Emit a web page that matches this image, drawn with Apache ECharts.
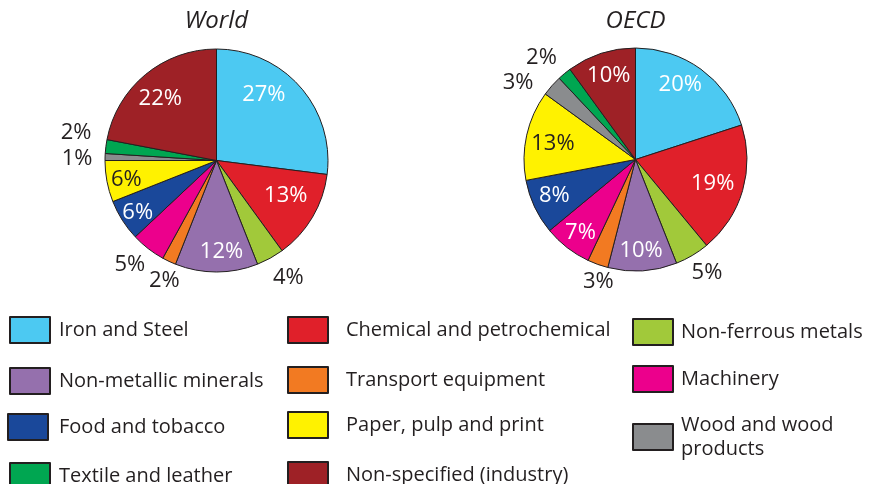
<!DOCTYPE html>
<html>
<head>
<meta charset="utf-8">
<script src="https://cdn.jsdelivr.net/npm/echarts@6/dist/echarts.min.js"></script>
<style>html,body{margin:0;padding:0;background:#fff}#c{width:870px;height:484px}</style>
</head>
<body>
<div id="c"></div>
<script>
const categories = ['Iron and Steel','Chemical and petrochemical','Non-ferrous metals','Non-metallic minerals','Transport equipment','Machinery','Food and tobacco','Paper, pulp and print','Wood and wood products','Textile and leather','Non-specified (industry)'];
const worldValues = [27,13,4,12,2,5,6,6,1,2,22];
const oecdValues = [20,19,5,10,3,7,8,13,3,2,10];
const chartTitles = ['World','OECD'];
const colors = ['#4cc9f2','#e0202a','#a1c93a','#9570ad','#f27a22','#ec008c','#1a489a','#fff200','#8a8c8e','#00a651','#9e2126'];

// label nudges (style only, pixels)
const worldNudge = [[-20,-6],[-8,-10],[6,-2],[5,1],[6,-3],[-3,-4],[-3,4],[-2,2],[-3,3],[-5,-11],[1,7]];
const oecdNudge = [[-8,-2],[-9,-1],[2,-4],[0,2],[9,-6],[0,2],[0,-2],[5,4],[-15,14],[-7,3],[1,2]];

const FONT = '"Open Sans", sans-serif';
const DARK = '#231f20';
const R = 111.5;
const centers = [[216.5,160.5],[635.5,159.5]];

function pieSeries(values, center, nudge) {
  const layout = p => ({dx: nudge[p.dataIndex][0], dy: nudge[p.dataIndex][1], hideOverlap: false, moveOverlap: null});
  const main = {
    type: 'pie', center: center, radius: [0, R], startAngle: 90, clockwise: true,
    avoidLabelOverlap: false, label: {show: false}, labelLine: {show: false},
    emphasis: {disabled: true},
    itemStyle: {borderColor: DARK, borderWidth: 1},
    data: categories.map((c, i) => ({name: c, value: values[i], itemStyle: {color: colors[i]}}))
  };
  const inner = {
    type: 'pie', center: center, radius: [62, R], startAngle: 90, silent: true,
    avoidLabelOverlap: false, labelLine: {show: false}, emphasis: {disabled: true},
    itemStyle: {color: 'rgba(0,0,0,0)', borderWidth: 0},
    labelLayout: layout,
    label: {show: true, position: 'inside', fontFamily: FONT, fontSize: 22,
      formatter: p => p.value >= 6 ? p.value + '%' : ''},
    data: categories.map((c, i) => ({name: c, value: values[i],
      label: {color: colors[i] === '#fff200' ? DARK : '#ffffff'}}))
  };
  const outer = {
    type: 'pie', center: center, radius: [R, R + 44], startAngle: 90, silent: true,
    avoidLabelOverlap: false, labelLine: {show: false}, emphasis: {disabled: true},
    itemStyle: {color: 'rgba(0,0,0,0)', borderWidth: 0},
    labelLayout: layout,
    label: {show: true, position: 'inside', fontFamily: FONT, fontSize: 22, color: DARK,
      formatter: p => p.value < 6 ? p.value + '%' : ''},
    data: categories.map((c, i) => ({name: c, value: values[i]}))
  };
  return [main, inner, outer];
}

const legendPos = [
  [9,316,4],[287,316,13],[632,318,3],
  [9,367,4],[287,366,13],[632,365,3],
  [7,413,6],[287,411,13],[632,411,3],
  [9,462,4],[287,461,13]
];
const legends = categories.map((c, i) => ({
  data: [c], left: legendPos[i][0], top: legendPos[i][1], padding: 0,
  itemWidth: 40, itemHeight: 26, icon: 'rect', selectedMode: false,
  formatter: c === 'Wood and wood products' ? () => 'Wood and wood\nproducts' : undefined,
  textStyle: c === 'Wood and wood products'
    ? {fontFamily: FONT, fontSize: 20, color: DARK, lineHeight: 24, padding: [4,0,0,legendPos[i][2]]}
    : {fontFamily: FONT, fontSize: 20, color: DARK, padding: [0,0,0,legendPos[i][2]]}
}));

const chart = echarts.init(document.getElementById('c'), null, {renderer: 'canvas'});
chart.setOption({
  animation: false,
  title: chartTitles.map((t, i) => ({
    text: t, left: centers[i][0], top: 9, textAlign: 'center', padding: 0,
    textStyle: {fontFamily: FONT, fontSize: 24, fontStyle: 'italic', fontWeight: 'normal', color: DARK}
  })),
  legend: legends,
  series: [...pieSeries(worldValues, centers[0], worldNudge), ...pieSeries(oecdValues, centers[1], oecdNudge)]
});
</script>
</body>
</html>
